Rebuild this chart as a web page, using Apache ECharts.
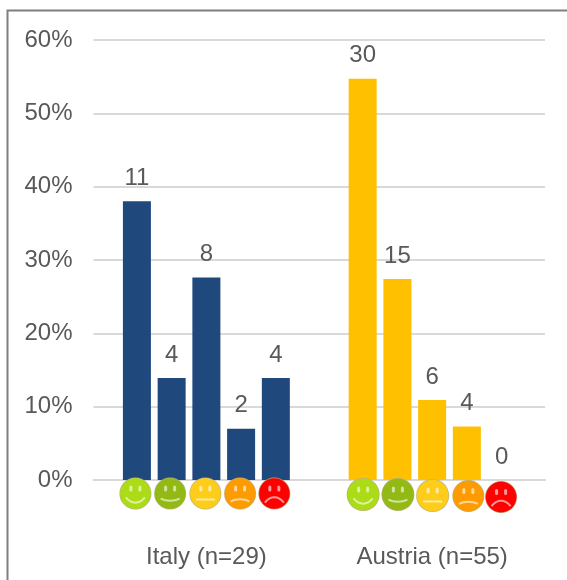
<!DOCTYPE html>
<html><head><meta charset="utf-8">
<style>html,body{margin:0;padding:0;background:#fff}#c{width:567px;height:580px}</style>
<script src="https://cdn.jsdelivr.net/npm/echarts@6/dist/echarts.min.js"></script>
</head><body><div id="c"></div>
<script>
const groups = ['Italy (n=29)', 'Austria (n=55)'];
const moods = ['very happy', 'happy', 'neutral', 'unhappy', 'very unhappy'];
const italyPercent = [38, 13.9, 27.6, 7, 13.9];
const italyCounts = [11, 4, 8, 2, 4];
const austriaPercent = [54.7, 27.4, 10.9, 7.3, 0];
const austriaCounts = [30, 15, 6, 4, 0];
const yTicks = [0, 10, 20, 30, 40, 50, 60];

// 26 half-width slots across the plot
const slotCount = 26;
const italySlots = [2, 4, 6, 8, 10];
const austriaSlots = [15, 17, 19, 21, 23];
const categories = new Array(slotCount).fill('');
categories[italySlots[2]] = groups[0];
categories[austriaSlots[2]] = groups[1];

function seriesData(slots, values, counts) {
  const out = new Array(slotCount).fill(null);
  slots.forEach((s, i) => { out[s] = { value: values[i], count: counts[i] }; });
  return out;
}

const faceColors = ['#abdc16', '#93b915', '#fdcd1a', '#fe9b00', '#fe0000'];
const faceLook = { italy: [[-1.5,13.5,16],[-1.5,13.5,16],[-1,13.5,16],[-1,13.5,16],[-1.5,13.5,16]],
                   austria: [[0.5,14.5,16.5],[0.5,14.5,16.5],[0.5,15.5,16.5],[1.5,16,16],[-0.5,17,16]] };
const mouthBend = [7, 3, 0, -3, -7];

const faceData = [];
italySlots.forEach((s, i) => faceData.push([s, 0, i, 'italy']));
austriaSlots.forEach((s, i) => faceData.push([s, 0, i, 'austria']));

function renderFace(params, api) {
  const mood = api.value(2);
  const look = faceLook[faceData[params.dataIndex][3]][mood];
  const p = api.coord([api.value(0), 0]);
  const cx = p[0] + look[0], cy = p[1] + look[1], r = look[2];
  const base = faceColors[mood];
  const line = 'rgba(255,255,255,0.6)';
  const bend = mouthBend[mood];
  const my = cy + 6 - bend * 0.3 + (bend < 0 ? 1 : 0);
  return { type: 'group', children: [
    { type: 'circle', shape: { cx, cy, r },
      style: { fill: { type: 'radial', x: 0.5, y: 0.5, r: 0.5, colorStops: [
        { offset: 0, color: base }, { offset: 0.92, color: base }, { offset: 1, color: '#b5b080' }] } } },
    { type: 'rect', shape: { x: cx - 6, y: cy - 8, width: 3, height: 6, r: 1.5 }, style: { fill: line } },
    { type: 'rect', shape: { x: cx + 3, y: cy - 8, width: 3, height: 6, r: 1.5 }, style: { fill: line } },
    { type: 'bezierCurve', shape: { x1: cx - 9.5, y1: my, x2: cx + 9.5, y2: my,
        cpx1: cx - 4, cpy1: my + bend, cpx2: cx + 4, cpy2: my + bend },
      style: { fill: 'none', stroke: line, lineWidth: 2 } }
  ] };
}

function barSeries(name, color, slots, values, counts) {
  return {
    name, type: 'bar', barWidth: 28, barGap: '-100%', z: 2,
    data: seriesData(slots, values, counts),
    itemStyle: { color },
    label: { show: true, position: 'top', distance: 11, color: '#595959', fontSize: 24,
      fontFamily: 'Liberation Sans', formatter: p => String(p.data.count) }
  };
}

const chart = echarts.init(document.getElementById('c'), null, { renderer: 'canvas' });
chart.setOption({
  animation: false,
  backgroundColor: '#fff',
  grid: { left: 93.5, right: 22, top: 40, bottom: 100 },
  xAxis: { type: 'category', data: categories,
    axisTick: { show: false },
    axisLine: { show: true, lineStyle: { color: '#d9d9d9', width: 2 } },
    axisLabel: { interval: 0, margin: 65, color: '#595959', fontSize: 24, fontFamily: 'Liberation Sans' } },
  yAxis: { type: 'value', min: yTicks[0], max: yTicks[yTicks.length - 1], interval: 10,
    axisLine: { show: false }, axisTick: { show: false },
    splitLine: { lineStyle: { color: '#d9d9d9', width: 2 } },
    axisLabel: { margin: 21, padding: [6, 0, 0, 0], color: '#595959', fontSize: 24, fontFamily: 'Liberation Sans', formatter: '{value}%' } },
  series: [
    barSeries('Italy', '#1f497d', italySlots, italyPercent, italyCounts),
    barSeries('Austria', '#ffc000', austriaSlots, austriaPercent, austriaCounts),
    { type: 'custom', coordinateSystem: 'cartesian2d', z: 5, clip: false, silent: true,
      encode: { x: 0, y: 1 }, data: faceData.map(d => d.slice(0, 3)), renderItem: renderFace }
  ],
  graphic: [{ type: 'polyline', silent: true, z: 10,
    shape: { points: [[7.5, 580], [7.5, 10.5], [567, 10.5]] },
    style: { fill: 'none', stroke: '#7f7f7f', lineWidth: 2 } }]
});
</script></body></html>
